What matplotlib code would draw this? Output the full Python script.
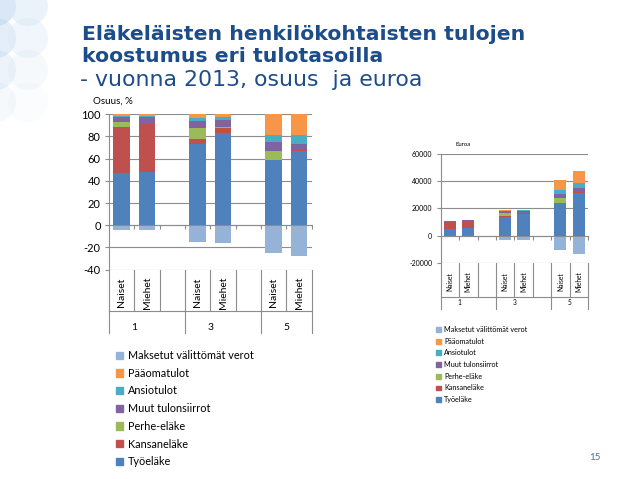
import matplotlib.pyplot as plt
from matplotlib.patches import Patch, Ellipse
from matplotlib.transforms import blended_transform_factory

# categories
groups = ['1', '3', '5']
sexes = ['Naiset', 'Miehet']
components = ['Työeläke', 'Kansaneläke', 'Perhe-eläke', 'Muut tulonsiirrot',
              'Ansiotulot', 'Pääomatulot']
tax_label = 'Maksetut välittömät verot'

# bar order: 1 Naiset, 1 Miehet, 3 Naiset, 3 Miehet, 5 Naiset, 5 Miehet
# share of income, %
pct_tyoelake = [47, 48, 73, 83, 58.5, 67]
pct_kansanelake = [42, 43, 4.5, 5, 0.5, 0.5]
pct_perhe = [4.5, 0.5, 10.5, 0.5, 7.5, 0.5]
pct_muut = [4.5, 6.5, 6, 6.5, 8.5, 5.5]
pct_ansio = [0.5, 0.5, 2.5, 2.5, 6, 8]
pct_paaoma = [1.5, 1.5, 3.5, 2.5, 19, 18.5]
pct_verot = [-4, -4, -15, -16, -25, -28]

# euros
eur_tyoelake = [5200, 5500, 13900, 15800, 24000, 31500]
eur_kansanelake = [4600, 4950, 850, 950, 200, 240]
eur_perhe = [500, 60, 2000, 100, 3100, 240]
eur_muut = [500, 750, 1150, 1230, 3500, 2600]
eur_ansio = [50, 60, 480, 480, 2450, 3750]
eur_paaoma = [150, 170, 670, 470, 7800, 8700]
eur_verot = [-450, -460, -2850, -3000, -10300, -13200]

title_lines = ['Eläkeläisten henkilökohtaisten tulojen', 'koostumus eri tulotasoilla']
subtitle = '- vuonna 2013, osuus  ja euroa'

colors = ['#4F81BD', '#C0504D', '#9BBB59', '#8064A2', '#4BACC6', '#F79646']
tax_color = '#95B3D7'
grid_color = '#8c8c8c'
title_color = '#1c4c8a'

fig = plt.figure(figsize=(6.38, 4.79), dpi=100)
plt.rcParams['font.family'] = ['Lato', 'DejaVu Sans']

# decorative circles in top-left corner
for k in range(4):
    a = 0.5 * (1 - k / 4)
    for cx, c in [(-4, '#b7d3ee'), (28, '#d9e8f6')]:
        e = Ellipse((cx / 638, 1 - (6 + 32 * k) / 479), 40 / 638, 40 / 479,
                    transform=fig.transFigure, facecolor=c, edgecolor='none',
                    alpha=a)
        fig.add_artist(e)

fig.text(82 / 638, 1 - 34 / 479, title_lines[0], fontsize=14.7, fontweight='bold',
         color=title_color, family='DejaVu Sans', va='center', ha='left')
fig.text(82 / 638, 1 - 57 / 479, title_lines[1], fontsize=14.7, fontweight='bold',
         color=title_color, family='DejaVu Sans', va='center', ha='left')
fig.text(80 / 638, 1 - 80 / 479, subtitle, fontsize=15.8, color=title_color,
         family='DejaVu Sans', va='center', ha='left')
fig.text(595 / 638, 1 - 458 / 479, '15', fontsize=7, color='#4a6e96', ha='center', va='center')

xpos = [0, 1, 3, 4, 6, 7]


def draw_chart(ax, series, taxes, ylim, yticks, fs, tfs, row_y, row_sep, group_y, bottom, ylab, ylab_xy):
    bottoms = [0] * len(xpos)
    for vals, col in zip(series, colors):
        ax.bar(xpos, vals, bottom=bottoms, width=0.66, color=col, zorder=3)
        bottoms = [b + v for b, v in zip(bottoms, vals)]
    ax.bar(xpos, taxes, width=0.66, color=tax_color, zorder=3)
    ax.set_xlim(-0.5, 7.5)
    ax.set_ylim(*ylim)
    ax.set_yticks(yticks)
    ax.set_yticklabels([str(t) if t >= 0 else '-' + str(-t) for t in yticks])
    ax.yaxis.grid(True, color=grid_color, linewidth=0.8, zorder=0)
    ax.set_axisbelow(True)
    for s in ['top', 'right']:
        ax.spines[s].set_visible(False)
    ax.spines['left'].set_color(grid_color)
    ax.spines['bottom'].set_color(grid_color)
    ax.spines['bottom'].set_position(('data', 0))
    ax.spines['bottom'].set_zorder(4)
    ax.set_xticks([i - 0.5 for i in range(9)])
    ax.set_xticklabels([])
    ax.tick_params(axis='x', length=3, color=grid_color, direction='out')
    ax.tick_params(axis='y', length=3, color=grid_color, labelsize=tfs, pad=3)

    tr = blended_transform_factory(ax.transData, ax.transAxes)
    for i, x in enumerate(xpos):
        ax.text(x, row_y, sexes[i % 2], rotation=90, ha='center', va='center',
                fontsize=fs, transform=tr)
    for b in range(9):
        xb = b - 0.5
        low = bottom if b % 3 == 0 or b == 8 else row_sep
        ax.plot([xb, xb], [0, low], color=grid_color, lw=0.8, transform=tr, clip_on=False)
    ax.plot([-0.5, 7.5], [row_sep, row_sep], color=grid_color, lw=0.8, transform=tr, clip_on=False)
    for g, lab in enumerate(groups):
        ax.text(3 * g + 0.5, group_y, lab, ha='center', va='center', fontsize=fs, transform=tr)
    fig.text(ylab_xy[0] / 638, 1 - ylab_xy[1] / 479, ylab, fontsize=fs - 0.5, ha='left', va='center')


ax1 = fig.add_axes([109 / 638, 1 - 269.7 / 479, 202.7 / 638, 155.4 / 479])
draw_chart(ax1, [pct_tyoelake, pct_kansanelake, pct_perhe, pct_muut, pct_ansio, pct_paaoma],
           pct_verot, (-40, 100), list(range(-40, 101, 20)), 7.5, 8,
           -0.147, -0.268, -0.37, -0.41, 'Osuus, %', (93, 101))

ax2 = fig.add_axes([440.7 / 638, 1 - 263 / 479, 147.3 / 638, 109.3 / 479])
draw_chart(ax2, [eur_tyoelake, eur_kansanelake, eur_perhe, eur_muut, eur_ansio, eur_paaoma],
           eur_verot, (-20000, 60000), list(range(-20000, 60001, 20000)), 4.8, 5,
           -0.171, -0.308, -0.363, -0.42, 'Euroa', (455, 144))

handles = [Patch(color=tax_color, label=tax_label)]
handles += [Patch(color=c, label=l) for c, l in zip(colors[::-1], components[::-1])]

fig.legend(handles=handles, loc='upper left', bbox_to_anchor=(116 / 638, 1 - 350 / 479),
           frameon=False, fontsize=7.8, handlelength=0.65, handleheight=0.65,
           handletextpad=0.45, labelspacing=0.62, borderaxespad=0, borderpad=0)
fig.legend(handles=handles, loc='upper left', bbox_to_anchor=(436 / 638, 1 - 326 / 479),
           frameon=False, fontsize=5.2, handlelength=0.65, handleheight=0.65,
           handletextpad=0.5, labelspacing=0.65, borderaxespad=0, borderpad=0)

fig.savefig('out.png', dpi=100)
